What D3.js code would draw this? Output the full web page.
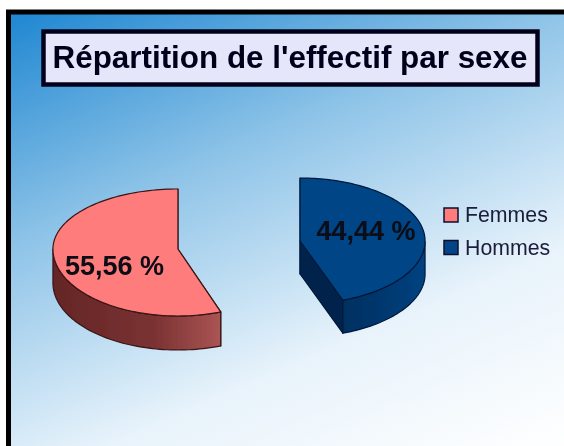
<!DOCTYPE html>
<html><head><meta charset="utf-8">
<script src="https://cdn.jsdelivr.net/npm/d3@7"></script>
<style>html,body{margin:0;padding:0;background:#fff}svg{display:block}</style>
</head><body><svg id="c" width="564" height="446"></svg>
<script>
const categories = ["Femmes", "Hommes"];
const shares = [55.56, 44.44];
const shareLabels = ["55,56 %", "44,44 %"];
const chartTitle = "Répartition de l'effectif par sexe";
const topColors = ["#ff7c7c", "#004586"];
const wallColors = [["#642626", "#7a3232", "#ab5454"], ["#002f60", "#003a72", "#004280"]];
const cutColors = ["#5a2020", "#00234c"];
const edgeColors = ["#3a1414", "#00193a"];

const svg = d3.select("#c");
const defs = svg.append("defs");
const F = "'Liberation Sans', Arial, sans-serif";
const soft = defs.append("filter").attr("id", "soft").attr("x", "-5%").attr("y", "-5%").attr("width", "110%").attr("height", "110%");
soft.append("feGaussianBlur").attr("stdDeviation", 0.45);

const bg = defs.append("linearGradient").attr("id", "bg").attr("gradientUnits", "userSpaceOnUse")
  .attr("x1", 11).attr("y1", 14).attr("x2", 257).attr("y2", 583);
[[0, "#1f87d1"], [0.35, "#8fc4e8"], [0.7, "#e8f3fb"], [1, "#ffffff"]].forEach(s =>
  bg.append("stop").attr("offset", s[0]).attr("stop-color", s[1]));

const root = svg.append("g").attr("filter", "url(#soft)");
root.append("rect").attr("x", 8.5).attr("y", 12).attr("width", 570).attr("height", 450)
  .attr("fill", "url(#bg)").attr("stroke", "#000").attr("stroke-width", 5);

// title
root.append("rect").attr("x", 43.5).attr("y", 31.5).attr("width", 494).attr("height", 53)
  .attr("fill", "#e6e6fb").attr("stroke", "#04041a").attr("stroke-width", 4.5);
root.append("text").attr("x", 290).attr("y", 68).attr("text-anchor", "middle")
  .attr("font-family", F).attr("font-weight", "bold").attr("font-size", 31.4).attr("fill", "#05051c")
  .text(chartTitle);

// pie
const pie = d3.pie().sort(null).startAngle(2 * Math.PI * shares[1] / d3.sum(shares))
  .endAngle(2 * Math.PI * (1 + shares[1] / d3.sum(shares)));
const arcs = pie(shares);
const center = { x: 239, y: 245 }, rx = 125, explode = 62;
const ryBack = [60, 63], ryFront = [67, 63], depth = [34, 33];
const lineGen = d3.line().x(d => d[0]).y(d => d[1]);

arcs.forEach((a, i) => {
  const mid = (a.startAngle + a.endAngle) / 2;
  const cx = center.x + explode * Math.sin(mid);
  const cy = center.y - explode * 0.37 * Math.cos(mid);
  const pt = (t, z) => {
    const c = Math.cos(t);
    return [cx + rx * Math.sin(t), cy - (c > 0 ? ryBack[i] : ryFront[i]) * c + z];
  };
  const steps = d3.range(0, 121).map(k => a.startAngle + (a.endAngle - a.startAngle) * k / 120);
  const g = root.append("g").attr("stroke", edgeColors[i]).attr("stroke-width", 1.2).attr("stroke-linejoin", "round");

  // cut faces
  [a.startAngle, a.endAngle].forEach(t => {
    g.append("path").attr("fill", cutColors[i])
      .attr("d", lineGen([[cx, cy], pt(t, 0), pt(t, depth[i]), [cx, cy + depth[i]]]) + "Z");
  });

  // outer wall
  const front = steps.filter(t => Math.cos(t) <= 0);
  const gid = "wall" + i;
  const wx = front.map(t => pt(t, 0)[0]);
  const wg = defs.append("linearGradient").attr("id", gid).attr("gradientUnits", "userSpaceOnUse")
    .attr("x1", d3.min(wx)).attr("y1", 0).attr("x2", d3.max(wx)).attr("y2", 0);
  wallColors[i].forEach((col, k) => wg.append("stop").attr("offset", [0, 0.6, 1][k]).attr("stop-color", col));
  g.append("path").attr("fill", `url(#${gid})`)
    .attr("d", lineGen(front.map(t => pt(t, 0)).concat(front.slice().reverse().map(t => pt(t, depth[i])))) + "Z");

  // top surface
  g.append("path").attr("fill", topColors[i])
    .attr("d", lineGen([[cx, cy]].concat(steps.map(t => pt(t, 0)))) + "Z");
});

// value labels
const labelPos = [[114.5, 275], [366, 240]];
shareLabels.forEach((s, i) => {
  root.append("text").attr("x", labelPos[i][0]).attr("y", labelPos[i][1]).attr("text-anchor", "middle")
    .attr("font-family", F).attr("font-weight", "bold").attr("font-size", 27).attr("fill", "#0a0a14").text(s);
});

// legend
const legendY = d3.scalePoint().domain(categories).range([215, 247.5]);
categories.forEach((c, i) => {
  root.append("rect").attr("x", 444).attr("y", legendY(c) - 7).attr("width", 14).attr("height", 14)
    .attr("fill", topColors[i]).attr("stroke", "#0a1030").attr("stroke-width", 1.5);
  root.append("text").attr("x", 465).attr("y", legendY(c) + 7)
    .attr("font-family", F).attr("font-size", 21.3).attr("fill", "#1c1c3a").text(c);
});
</script></body></html>
